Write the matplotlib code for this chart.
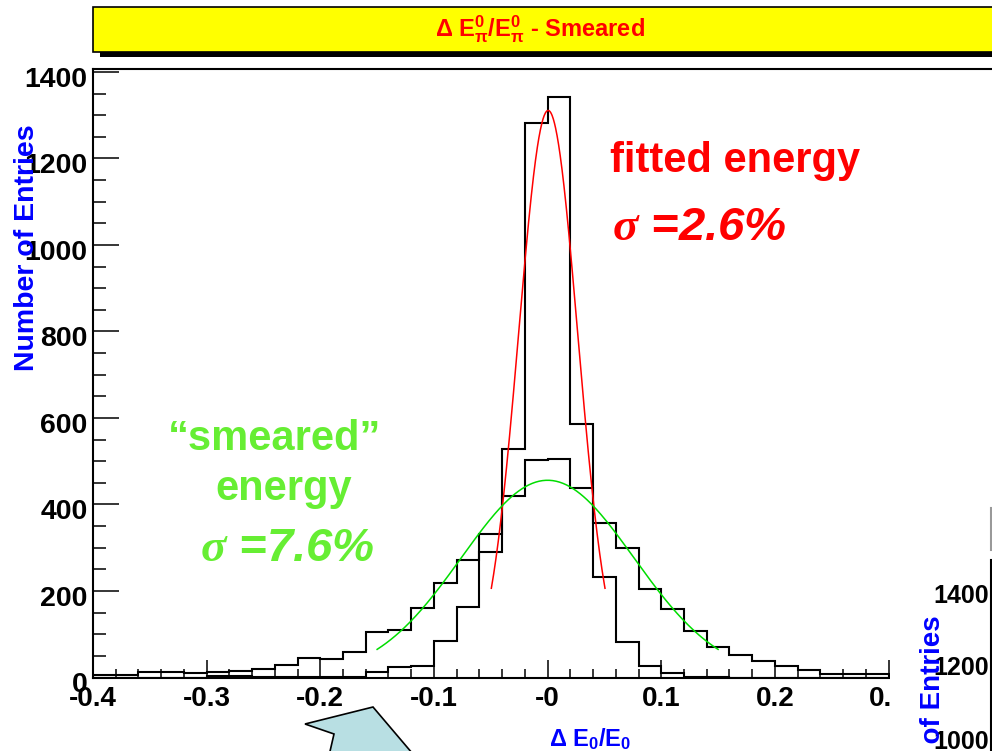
import numpy as np
import matplotlib
matplotlib.use('Agg')
import matplotlib.pyplot as plt
from matplotlib.patches import Rectangle, Polygon
from matplotlib.lines import Line2D
from matplotlib.ticker import MultipleLocator, FixedLocator, FixedFormatter
import matplotlib.transforms as mtrans

plt.rcParams['font.family'] = ['Liberation Sans', 'DejaVu Sans']
plt.rcParams['font.weight'] = 'bold'
plt.rcParams['mathtext.fontset'] = 'custom'
plt.rcParams['mathtext.it'] = 'Liberation Serif:italic'
plt.rcParams['mathtext.default'] = 'regular'

W, H = 992, 751

# histogram bins (width 0.02 starting at -0.4), counts
bin_lo = -0.40
bin_w = 0.02
smeared = [6, 6, 12, 12, 11, 13, 15, 19, 28, 44,
           42, 58, 106, 110, 161, 218, 272, 331, 419, 503,
           505, 439, 358, 300, 204, 158, 108, 71, 52, 37,
           27, 17, 7, 7, 7]
fitted = [0, 0, 0, 0, 0, 3, 3, 2, 1, 2,
          2, 2, 13, 25, 27, 85, 164, 291, 528, 1283,
          1342, 587, 233, 83, 26, 10, 2, 1, 0, 0,
          0, 0, 0, 0, 0]

# gaussian fits: amplitude, mean, sigma, fit range
fit_red = (1311, 0.0005, 0.026, 0.05)
fit_green = (456, 0.0, 0.076, 0.15)

xtick_vals = [-0.4, -0.3, -0.2, -0.1, 0.0, 0.1, 0.2, 0.3, 0.4]
xtick_labels = ['-0.4', '-0.3', '-0.2', '-0.1', '-0', '0.1', '0.2', '0.3', '0.4']
ytick_vals = [0, 200, 400, 600, 800, 1000, 1200, 1400]


def fx(x):
    return x / W


def fy(y):
    return 1 - y / H


fig = plt.figure(figsize=(W / 100, H / 100), dpi=100)
fig.patch.set_facecolor('white')

ax_left, ax_bot, ax_top = 93, 677.5, 68.5
ax = fig.add_axes([fx(ax_left), fy(ax_bot), (0.8 * 1136.5) / W, (ax_bot - ax_top) / H])

edges = bin_lo + bin_w * np.arange(len(smeared) + 1)
ax.stairs(smeared, edges, color='black', lw=1.5, baseline=0)
ax.stairs(fitted, edges, color='black', lw=1.5, baseline=0)

for (amp, mu, sig, rng), col in [(fit_red, '#ff0000'), (fit_green, '#00dd00')]:
    xs = np.linspace(mu - rng, mu + rng, 300)
    ax.plot(xs, amp * np.exp(-0.5 * ((xs - mu) / sig) ** 2), color=col, lw=1.1)

ax.set_xlim(-0.4, 0.4)
ax.set_ylim(0, 1408)
ax.xaxis.set_major_locator(FixedLocator(xtick_vals))
ax.xaxis.set_major_formatter(FixedFormatter(xtick_labels))
ax.xaxis.set_minor_locator(MultipleLocator(0.02))
ax.yaxis.set_major_locator(FixedLocator(ytick_vals))
ax.yaxis.set_minor_locator(MultipleLocator(50))
ax.tick_params(axis='x', which='major', direction='in', length=13, width=1.1,
               labelsize=20, pad=6)
ax.tick_params(axis='x', which='minor', direction='in', length=6.5, width=1.1)
ax.tick_params(axis='y', which='major', direction='in', length=19, width=1.1,
               labelsize=20.5, pad=4)
ax.tick_params(axis='y', which='minor', direction='in', length=9.5, width=1.1)
for lab in ax.get_xticklabels() + ax.get_yticklabels():
    lab.set_fontweight('bold')
off = mtrans.ScaledTranslation(0, -5 / 100, fig.dpi_scale_trans)
for lab in ax.get_yticklabels():
    lab.set_transform(lab.get_transform() + off)
for sp in ax.spines.values():
    sp.set_linewidth(1.5)

# title box with shadow
fig.add_artist(Rectangle((fx(100), fy(57)), fx(W + 10 - 100), 6 / H,
                         transform=fig.transFigure, facecolor='black', edgecolor='none'))
fig.add_artist(Rectangle((fx(93), fy(52)), fx(W + 10 - 93), 45 / H,
                         transform=fig.transFigure, facecolor='#ffff00',
                         edgecolor='black', lw=1.2))
fig.text(fx(540), fy(29), r'$\Delta$ E$_{\pi}^{0}$/E$_{\pi}^{0}$ - Smeared',
         color='#ff0000', fontsize=17, fontweight='bold', ha='center', va='center')

fig.text(fx(27), fy(248), 'Number of Entries', color='#0000ff', fontsize=20.5,
         fontweight='bold', rotation=90, ha='center', va='center')
fig.text(fx(590), fy(739), r'$\Delta$ E$_0$/E$_0$', color='#0000ff', fontsize=17,
         fontweight='bold', ha='center', va='center')

red = '#ff0000'
green = '#66ee33'
fig.text(fx(610), fy(172), 'fitted energy', color=red, fontsize=30,
         fontweight='bold', ha='left', va='baseline')
fig.text(fx(612), fy(240), r'$\mathit{\sigma}$ =2.6%', color=red, fontsize=34,
         fontweight='bold', fontstyle='italic', ha='left', va='baseline')
fig.text(fx(168), fy(450), '\u201csmeared\u201d', color=green, fontsize=30,
         fontweight='bold', ha='left', va='baseline')
fig.text(fx(215), fy(500), 'energy', color=green, fontsize=30,
         fontweight='bold', ha='left', va='baseline')
fig.text(fx(200), fy(561), r'$\mathit{\sigma}$ =7.6%', color=green, fontsize=34,
         fontweight='bold', fontstyle='italic', ha='left', va='baseline')

# neighbouring picture covering the right part of the plot
fig.add_artist(Rectangle((fx(890), 0), fx(W - 890 + 5), fy(75),
                         transform=fig.transFigure, facecolor='white',
                         edgecolor='none', zorder=5))
fig.add_artist(Line2D([fx(991), fx(991)], [fy(560), fy(H + 5)], color='black',
                      lw=1.5, transform=fig.transFigure, zorder=6))
fig.add_artist(Line2D([fx(991), fx(991)], [fy(508), fy(550)], color='#999999',
                      lw=1.5, transform=fig.transFigure, zorder=6))
for lbl, yy in [('1400', 596), ('1200', 668), ('1000', 742)]:
    fig.text(fx(989), fy(yy), lbl, color='black', fontsize=18, fontweight='bold',
             ha='right', va='center', zorder=7)
fig.text(fx(933), fy(736), 'Number of Entries', color='#0000ff', fontsize=20,
         fontweight='bold', rotation=90, ha='center', va='center', zorder=8)

# light blue arrow at the bottom
arrow_px = [(305, 724), (373, 707), (418, 760), (328, 760), (334, 734)]
fig.add_artist(Polygon([(fx(a), fy(b)) for a, b in arrow_px], closed=True,
                       transform=fig.transFigure, facecolor='#b8dfe3',
                       edgecolor='black', lw=1.2, zorder=6))

fig.savefig('out.png', dpi=100)
